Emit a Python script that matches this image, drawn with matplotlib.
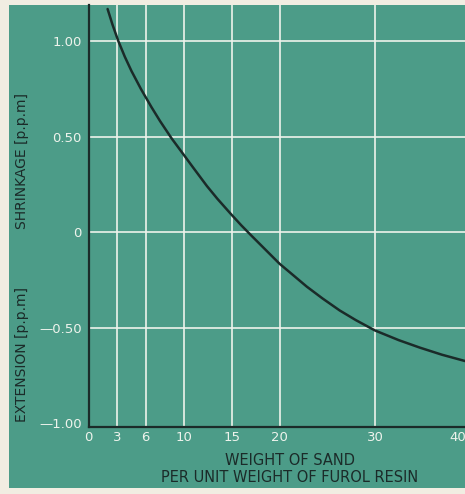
import matplotlib
matplotlib.use("Agg")
import matplotlib.pyplot as plt
from matplotlib.patches import Rectangle
import matplotlib.transforms as mtransforms

# Data
sand_ratio = [2.0, 2.5, 3.1, 3.8, 4.5, 5.5, 6.6, 7.5, 8.7, 10, 11, 12.4, 13.5,
              14.9, 16, 17, 18.5, 20, 21.5, 22.85, 24.5, 26.3, 28, 30, 32.5,
              34.7, 37, 40]
deformation = [1.17, 1.09, 1.005, 0.92, 0.845, 0.75, 0.655, 0.582, 0.492, 0.404,
               0.336, 0.242, 0.175, 0.096, 0.036, -0.015, -0.09, -0.165,
               -0.228, -0.285, -0.347, -0.41, -0.461, -0.515, -0.566,
               -0.605, -0.642, -0.683]

x_ticks = [0, 3, 6, 10, 15, 20, 30, 40]
x_tick_labels = ["0", "3", "6", "10", "15", "20", "30", "40"]
y_ticks = [1.0, 0.5, 0.0, -0.5, -1.0]
y_tick_labels = ["1.00", "0.50", "0", "\u20140.50", "\u20141.00"]
y_grid = [1.0, 0.5, 0.0, -0.5]
x_grid = [3, 6, 10, 15, 20, 30, 40]

GREEN = "#4c9c88"
CREAM = "#f1ede2"
DARK = "#1b2b29"
WHITE = "#eef3ec"

W, H = 465, 494
plt.rcParams['font.family'] = ['DejaVu Sans']
fig = plt.figure(figsize=(W / 100, H / 100), dpi=100, facecolor=CREAM)

# green panel
fig.patches.append(Rectangle((9 / W, 1 - 488 / H), (W - 9) / W, (488 - 5) / H,
                             transform=fig.transFigure, facecolor=GREEN,
                             edgecolor="none", zorder=-5))

px_per_x = 9.55
x0_px = 88.5
xmax = 40.6
left = x0_px / W
width = xmax * px_per_x / W
bottom = 1 - 427 / H
top = 1 - 5 / H
ax = fig.add_axes([left, bottom, width, top - bottom])
ax.set_facecolor("none")
ax.set_xlim(0, xmax)
ax.set_ylim(-1.021, 1.191)

for yv in y_grid:
    ax.axhline(yv, color=WHITE, lw=1.4, alpha=0.85, zorder=1)
for xv in x_grid:
    ax.axvline(xv, color=WHITE, lw=1.4, alpha=0.85, zorder=1)

ax.plot(sand_ratio, deformation, color=DARK, lw=1.8, zorder=3,
        solid_capstyle="round", solid_joinstyle="round")

for s in ["top", "right"]:
    ax.spines[s].set_visible(False)
for s in ["left", "bottom"]:
    ax.spines[s].set_color(DARK)
    ax.spines[s].set_linewidth(1.6)

ax.set_xticks(x_ticks)
ax.set_xticklabels(x_tick_labels)
ax.set_yticks(y_ticks)
ax.set_yticklabels(y_tick_labels)
ax.tick_params(axis="both", length=0, colors=WHITE, labelsize=9.5)
ax.tick_params(axis="x", pad=3)
ax.tick_params(axis="y", pad=5)
last = ax.get_xticklabels()[-1]
last.set_horizontalalignment("right")
last.set_transform(last.get_transform() + mtransforms.ScaledTranslation(-0.04, 0, fig.dpi_scale_trans))

fig.text(22 / W, 1 - 161 / H, "SHRINKAGE [p.p.m]", rotation=90, ha="center",
         va="center", color=DARK, fontsize=10)
fig.text(22 / W, 1 - 355 / H, "EXTENSION [p.p.m]", rotation=90, ha="center",
         va="center", color=DARK, fontsize=10)
fig.text(290 / W, 1 - 460 / H, "WEIGHT OF SAND", ha="center", va="center",
         color=DARK, fontsize=10.5)
fig.text(290 / W, 1 - 477 / H, "PER UNIT WEIGHT OF FUROL RESIN", ha="center",
         va="center", color=DARK, fontsize=10.5)

fig.savefig("out.png", dpi=100, facecolor=CREAM)
